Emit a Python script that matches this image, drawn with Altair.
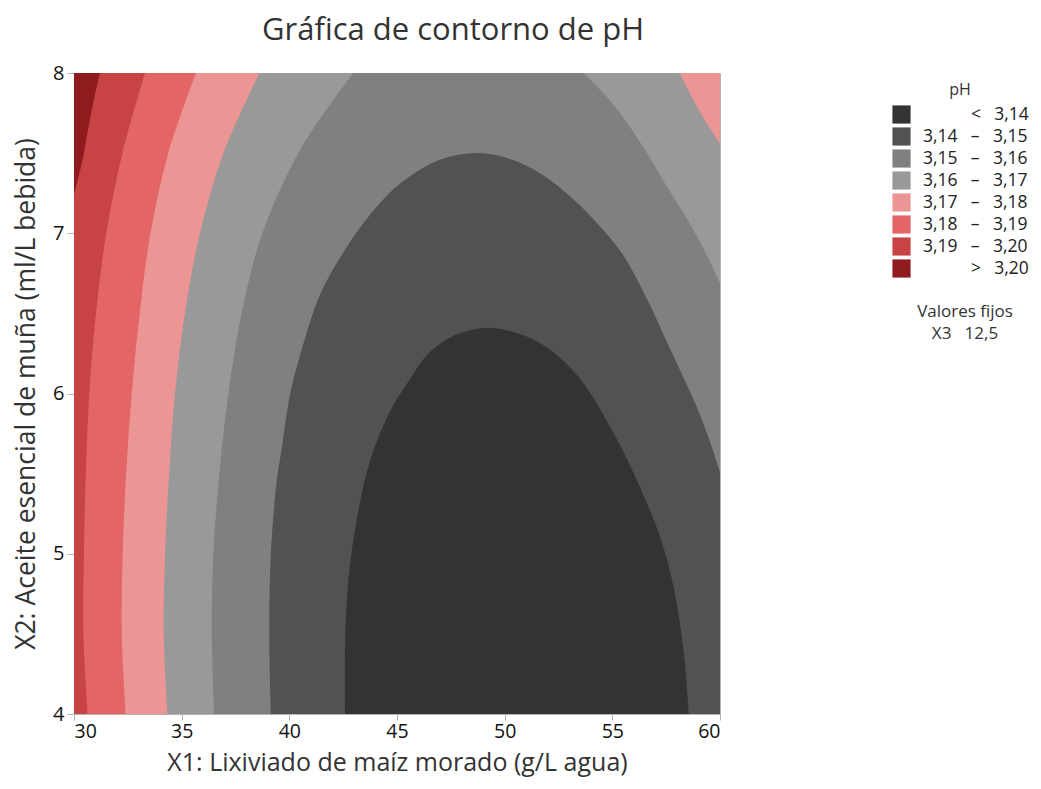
import altair as alt
import pandas as pd

FONT = "Open Sans"
X_DOMAIN = [30, 60]
Y_DOMAIN = [4, 8]
X_TICKS = [30, 35, 40, 45, 50, 55, 60]
Y_TICKS = [4, 5, 6, 7, 8]

# legend bands (top to bottom) and colours
Z = "\u200b"                       # keeps the leading blanks from being trimmed
F = "\u2007\u2008\u2007\u2007"   # blank of the width of "3,14"
S = "\u2002\u00a0"                 # gap around the dash
bands = [
    Z + F + S + "<" + S + "3,14",
    "3,14" + S + "–" + S + "3,15",
    "3,15" + S + "–" + S + "3,16",
    "3,16" + S + "–" + S + "3,17",
    "3,17" + S + "–" + S + "3,18",
    "3,18" + S + "–" + S + "3,19",
    "3,19" + S + "–" + S + "3,20",
    Z + F + S + ">" + S + "3,20",
]
band_colors = ["#333333", "#525252", "#808080", "#999999",
               "#EB9595", "#E46565", "#C84444", "#8F1B1F"]

# contour boundaries (x = X1, y = X2)
b320_x = [30.0, 30.40, 30.67, 30.95, 31.21]
b320_y = [7.24, 7.46, 7.66, 7.85, 8.0]

lvl_y = [4.0, 4.5, 5.0, 5.5, 6.0, 6.5, 7.0, 7.5, 8.0]
b319_x = [30.63, 30.44, 30.46, 30.55, 30.71, 31.02, 31.50, 32.25, 33.30]
b318_x = [32.40, 32.22, 32.26, 32.42, 32.68, 33.05, 33.55, 34.38, 35.67]
b317l_x = [34.34, 34.17, 34.23, 34.42, 34.69, 35.15, 35.85, 36.94, 38.61]

b317r_x = [58.13, 58.93, 60.0]
b317r_y = [8.0, 7.79, 7.56]

b316l_x = [36.51, 36.40, 36.47, 36.75, 37.17, 37.78, 38.75, 40.50, 42.97]
b316l_y = [4.0, 4.5, 5.0, 5.5, 6.0, 6.5, 7.0, 7.52, 8.0]
b316r_x = [53.67, 54.75, 55.68, 56.61, 57.54, 58.47, 59.40, 60.0]
b316r_y = [8.0, 7.85, 7.69, 7.50, 7.29, 7.09, 6.86, 6.69]

b315l_x = [39.14, 39.07, 39.14, 39.41, 39.65, 40.04, 40.50, 40.97, 41.34, 42.05, 43.60, 45.15, 47.01, 48.55]
b315l_y = [4.0, 4.5, 5.0, 5.45, 5.66, 6.0, 6.24, 6.45, 6.59, 6.78, 7.09, 7.31, 7.46, 7.50]
b315r_x = [50.11, 51.70, 53.20, 54.44, 55.52, 56.61, 57.54, 58.94, 59.48, 60.0]
b315r_y = [7.47, 7.37, 7.21, 7.04, 6.86, 6.59, 6.32, 5.91, 5.72, 5.51]

b314l_x = [42.59, 42.59, 42.75, 43.14, 43.75, 44.68, 45.61, 46.39, 47.47, 49.18]
b314l_y = [4.0, 4.44, 4.85, 5.22, 5.58, 5.89, 6.09, 6.24, 6.35, 6.41]
b314r_x = [50.73, 52.05, 53.51, 55.15, 56.30, 57.23, 57.85, 58.32, 58.55]
b314r_y = [6.37, 6.28, 6.09, 5.73, 5.41, 5.10, 4.79, 4.38, 4.0]

fixed_title = "Valores fijos"
fixed_value = "X3\u00a0\u00a0\u00a012,5"

# ---- build polygons (regions below each level), painter's order ----
x0, x1 = X_DOMAIN
y0, y1 = Y_DOMAIN


def part(xs, ys):
    return list(zip(xs, ys))


def polygon(*parts):
    pts = []
    for p in parts:
        pts.append(p[0])
        pts.extend(p)
        pts.append(p[-1])
    return pts


polys = [
    (bands[7], polygon([(x0, y0)], [(x0, y1)], [(x1, y1)], [(x1, y0)])),
    (bands[6], polygon([(x0, y0)], part(b320_x, b320_y), [(x1, y1)], [(x1, y0)])),
    (bands[5], polygon(part(b319_x, lvl_y), [(x1, y1)], [(x1, y0)])),
    (bands[4], polygon(part(b318_x, lvl_y), [(x1, y1)], [(x1, y0)])),
    (bands[3], polygon(part(b317l_x, lvl_y), part(b317r_x, b317r_y), [(x1, y0)])),
    (bands[2], polygon(part(b316l_x, b316l_y), part(b316r_x, b316r_y), [(x1, y0)])),
    (bands[1], polygon(part(b315l_x + b315r_x, b315l_y + b315r_y), [(x1, y0)])),
    (bands[0], polygon(part(b314l_x + b314r_x, b314l_y + b314r_y))),
]

rows = []
for k, (band, pts) in enumerate(polys):
    for i, (x, y) in enumerate(pts):
        rows.append({"band": band, "layer": k, "i": i, "x": x, "y": y})
df = pd.DataFrame(rows)

color = alt.Color(
    "band:N",
    scale=alt.Scale(domain=bands, range=band_colors),
    legend=alt.Legend(
        title="pH", orient="none", legendX=818, legendY=9,
        symbolType="square", symbolSize=330, symbolStrokeWidth=0,
        symbolOpacity=1, labelFontSize=17.5, titleFontSize=16,
        titleAnchor="middle", rowPadding=3, labelOffset=12,
        labelColor="#222", titleColor="#333", titleFontWeight="normal",
        titlePadding=7, labelLimit=300,
    ),
)

xenc = alt.X("x:Q", scale=alt.Scale(domain=X_DOMAIN, nice=False, zero=False),
             axis=alt.Axis(values=X_TICKS, title="X1: Lixiviado de maíz morado (g/L agua)",
                           titlePadding=10, titleFontSize=25, tickSize=6, labelPadding=2,
                           labelFontSize=19.5))
yenc = alt.Y("y:Q", scale=alt.Scale(domain=Y_DOMAIN, nice=False, zero=False),
             axis=alt.Axis(values=Y_TICKS, title="X2: Aceite esencial de muña (ml/L bebida)",
                           titlePadding=12))

base = alt.Chart(df)
layers = []
for k in range(len(polys)):
    layers.append(
        base.transform_filter(alt.datum.layer == k)
        .mark_line(filled=True, interpolate="catmull-rom", clip=True, strokeWidth=0)
        .encode(x=xenc, y=yenc, order="i:Q", color=color)
    )

txt_df = pd.DataFrame({"t": [fixed_title]})
txt1 = alt.Chart(txt_df).mark_text(
    font=FONT, fontSize=17, color="#333", align="center", baseline="middle"
).encode(text="t:N", x=alt.value(891), y=alt.value(239))
txt_df2 = pd.DataFrame({"t": [fixed_value]})
txt2 = alt.Chart(txt_df2).mark_text(
    font=FONT, fontSize=17, color="#333", align="center", baseline="middle"
).encode(text="t:N", x=alt.value(891), y=alt.value(261))

chart = alt.layer(*layers, txt1, txt2).properties(
    title=alt.TitleParams("Gráfica de contorno de pH", font=FONT, fontSize=31,
                          fontWeight="normal", color="#333", anchor="middle",
                          dx=56, offset=16),
    width=646, height=641,
    autosize=alt.AutoSizeParams(type="none"),
    padding={"left": 66, "top": 65, "right": 313, "bottom": 67},
).configure_axis(
    labelFont=FONT, titleFont=FONT, labelFontSize=20, titleFontSize=26.5,
    labelColor="#111", titleColor="#333", titleFontWeight="normal",
    domainColor="#b4b4b4", tickColor="#b4b4b4", tickSize=7, grid=False,
    labelPadding=3,
).configure_legend(labelFont=FONT, titleFont=FONT).configure_view(stroke="#b4b4b4")

chart.save("out.html", embed_options={"renderer": "svg", "actions": False})
